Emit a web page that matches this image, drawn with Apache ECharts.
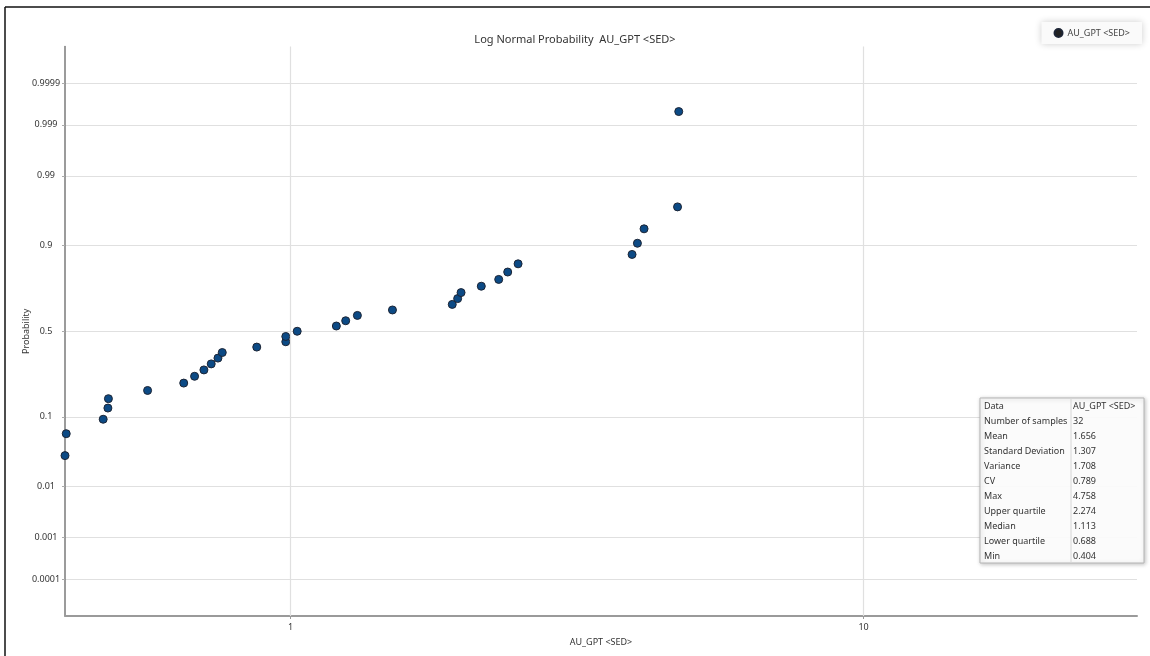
<!DOCTYPE html>
<html>
<head>
<meta charset="utf-8">
<script src="https://cdn.jsdelivr.net/npm/echarts@6/dist/echarts.min.js"></script>
<style>
html,body{margin:0;padding:0;background:#fff;}
#chart{width:1150px;height:656px;}
</style>
</head>
<body>
<div id="chart"></div>
<script>
// ---- data ----
const seriesName = 'AU_GPT <SED>';
const sampleValues = [0.404, 0.406, 0.471, 0.480, 0.481, 0.563, 0.651, 0.680, 0.706, 0.727, 0.747, 0.760, 0.873, 0.981, 0.981, 1.027, 1.202, 1.248, 1.308, 1.506, 1.915, 1.957, 1.984, 2.152, 2.308, 2.393, 2.495, 3.944, 4.030, 4.139, 4.735, 4.758];
const sampleProbs = [0.03125, 0.0625, 0.09375, 0.125, 0.15625, 0.1875, 0.21875, 0.25, 0.28125, 0.3125, 0.34375, 0.375, 0.40625, 0.4375, 0.46875, 0.5, 0.53125, 0.5625, 0.59375, 0.625, 0.65625, 0.6875, 0.71875, 0.75, 0.78125, 0.8125, 0.84375, 0.875, 0.90625, 0.9375, 0.96875, 0.9995];
const yTickProbs = [0.0001, 0.001, 0.01, 0.1, 0.5, 0.9, 0.99, 0.999, 0.9999];
const yTickLabels = ['0.0001', '0.001', '0.01', '0.1', '0.5', '0.9', '0.99', '0.999', '0.9999'];
const xGridValues = [1, 10];
const statLabels = ['Data', 'Number of samples', 'Mean', 'Standard Deviation', 'Variance', 'CV', 'Max', 'Upper quartile', 'Median', 'Lower quartile', 'Min'];
const statValues = ['AU_GPT <SED>', '32', '1.656', '1.307', '1.708', '0.789', '4.758', '2.274', '1.113', '0.688', '0.404'];
const axisProbMin = 0.00001, axisProbMax = 0.99999;
const xMin = 0.404, xMax = 30;

// probability (normal quantile) scale transform
function probit(p){
  const a=[-3.969683028665376e+01,2.209460984245205e+02,-2.759285104469687e+02,1.383577518672690e+02,-3.066479806614716e+01,2.506628277459239e+00];
  const b=[-5.447609879822406e+01,1.615858368580409e+02,-1.556989798598866e+02,6.680131188771972e+01,-1.328068155288572e+01];
  const c=[-7.784894002430293e-03,-3.223964580411365e-01,-2.400758277161838e+00,-2.549732539343734e+00,4.374664141464968e+00,2.938163982698783e+00];
  const d=[7.784695709041462e-03,3.224671290700398e-01,2.445134137142996e+00,3.754408661907416e+00];
  const pl=0.02425, ph=1-pl; let q,r;
  if(p<pl){q=Math.sqrt(-2*Math.log(p));return (((((c[0]*q+c[1])*q+c[2])*q+c[3])*q+c[4])*q+c[5])/((((d[0]*q+d[1])*q+d[2])*q+d[3])*q+1);}
  if(p<=ph){q=p-0.5;r=q*q;return (((((a[0]*r+a[1])*r+a[2])*r+a[3])*r+a[4])*r+a[5])*q/(((((b[0]*r+b[1])*r+b[2])*r+b[3])*r+b[4])*r+1);}
  q=Math.sqrt(-2*Math.log(1-p));return -(((((c[0]*q+c[1])*q+c[2])*q+c[3])*q+c[4])*q+c[5])/((((d[0]*q+d[1])*q+d[2])*q+d[3])*q+1);
}
const yTickZ = yTickProbs.map(probit);
function zLabel(v){
  for (let i=0;i<yTickZ.length;i++){ if (Math.abs(yTickZ[i]-v) < 1e-6) return yTickLabels[i]; }
  return '';
}
const points = sampleValues.map((v,i)=>[v, probit(sampleProbs[i])]);

const FONT = '"Noto Sans", "Open Sans", sans-serif';
const chart = echarts.init(document.getElementById('chart'));

// stats table graphic
const tblX = 980, tblY = 398, tblW = 164, rowH = 15, colX = 1073;
const tblH = rowH * statLabels.length;
const graphics = [
  { type:'line', z:100, shape:{x1:5,y1:7,x2:1150,y2:7}, style:{stroke:'#111', lineWidth:1.5}, silent:true },
  { type:'line', z:100, shape:{x1:5,y1:7,x2:5,y2:656}, style:{stroke:'#111', lineWidth:1.5}, silent:true },
  { type:'rect', z:100, shape:{x:tblX,y:tblY,width:tblW,height:tblH}, style:{fill:'rgba(255,255,255,0.93)', stroke:'#b5b5b5', lineWidth:1, shadowBlur:4, shadowColor:'rgba(0,0,0,0.25)', shadowOffsetX:1, shadowOffsetY:1} },
  { type:'line', z:101, shape:{x1:colX-2,y1:tblY,x2:colX-2,y2:tblY+tblH}, style:{stroke:'#d6d6d6', lineWidth:1} }
];
statLabels.forEach((lab,i)=>{
  graphics.push({ type:'text', z:102, x:tblX+4, y:tblY + i*rowH + rowH/2 + 0.5, style:{text:lab, fill:'#333', font:'9px '+FONT, verticalAlign:'middle'} });
  graphics.push({ type:'text', z:102, x:colX, y:tblY + i*rowH + rowH/2 + 0.5, style:{text:statValues[i], fill:'#333', font:'9px '+FONT, verticalAlign:'middle'} });
});

chart.setOption({
  animation:false,
  backgroundColor:'#fff',
  title:{
    text:'Log Normal Probability  ' + seriesName,
    left:'center', top:29,
    textStyle:{fontFamily:FONT, fontSize:11, fontWeight:'normal', color:'#333'}
  },
  legend:{
    right:8, top:22,
    padding:[6,12,6,12],
    backgroundColor:'#fafafa',
    shadowBlur:7, shadowColor:'rgba(0,0,0,0.2)',
    itemWidth:8, itemHeight:8, itemGap:6,
    icon:'circle',
    textStyle:{fontFamily:FONT, fontSize:9, color:'#444'},
    data:[{name:seriesName, itemStyle:{color:'#222'}}]
  },
  grid:{left:65, right:13, top:46.5, bottom:40, containLabel:false},
  xAxis:{
    type:'log', logBase:10, min:xMin, max:xMax,
    name:seriesName, nameLocation:'middle', nameGap:22, nameMoveOverlap:false,
    nameTextStyle:{fontFamily:FONT, fontSize:9, color:'#333'},
    axisLine:{show:true, onZero:false, lineStyle:{color:'#9a9a9a', width:2}},
    axisTick:{show:true, length:3, lineStyle:{color:'#999'}},
    splitLine:{show:false},
    axisLabel:{
      fontFamily:FONT, fontSize:9, color:'#333', margin:7, interval:0,
      showMinLabel:false, showMaxLabel:false,
      formatter:function(v){ const l = Math.log10(v); return Math.abs(l-Math.round(l))<1e-6 ? String(Math.round(v)) : ''; }
    }
  },
  yAxis:{
    type:'value', min:probit(axisProbMin), max:probit(axisProbMax),
    name:'Probability', nameLocation:'middle', nameGap:34, nameRotate:90, nameMoveOverlap:false,
    nameTextStyle:{fontFamily:FONT, fontSize:9, color:'#333'},
    axisLine:{show:true, onZero:false, lineStyle:{color:'#7a7a7a', width:1.5}},
    axisTick:{show:true, length:3, customValues:yTickZ, lineStyle:{color:'#aaa'}},
    axisLabel:{customValues:yTickZ, formatter:zLabel, fontFamily:FONT, fontSize:9, color:'#333', align:'center', margin:19},
    splitLine:{show:true, lineStyle:{color:'#e0e0e0', width:1.2}}
  },
  graphic: graphics,
  series:[{
    name:seriesName, type:'scatter', data:points,
    symbol:'circle', symbolSize:8,
    itemStyle:{color:'#0c4a85', borderColor:'#1d2535', borderWidth:1, opacity:1},
    markLine:{
      silent:true, symbol:'none', label:{show:false},
      lineStyle:{color:'#e0e0e0', type:'solid', width:1.2},
      data: xGridValues.map(v=>({xAxis:v}))
    },
    z:3
  }]
});
</script>
</body>
</html>
